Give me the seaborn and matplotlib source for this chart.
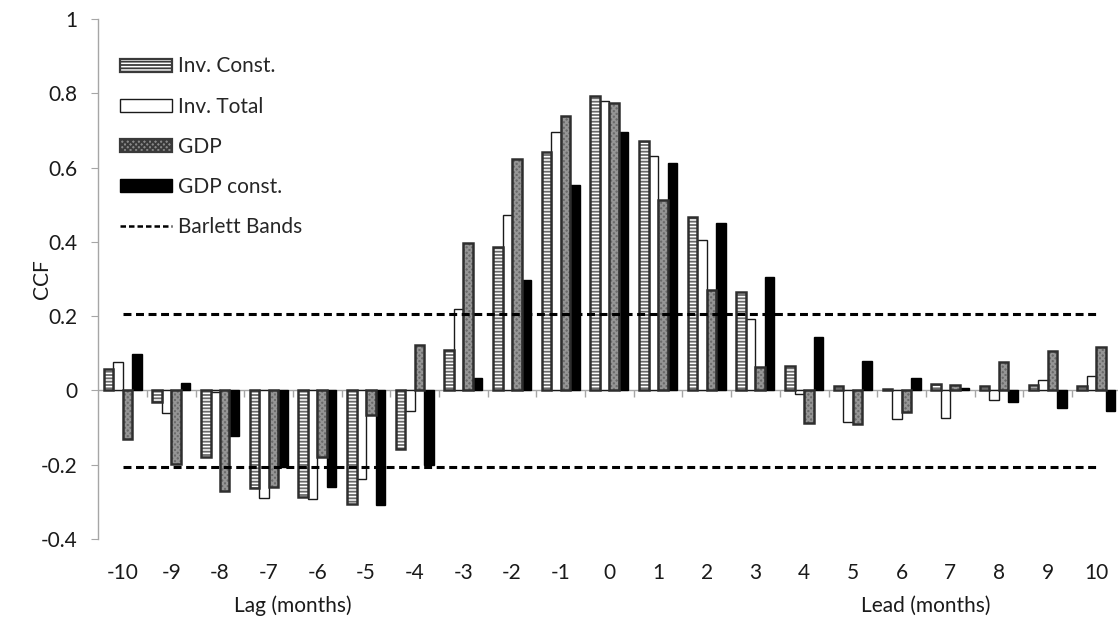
import numpy as np
import pandas as pd
import matplotlib
matplotlib.use("Agg")
import matplotlib.pyplot as plt
from matplotlib.patches import Patch, Rectangle
from matplotlib.lines import Line2D
import seaborn as sns

# Cross-correlation of each series with the reference series, by lag/lead in months
lags = list(range(-10, 11))
tick_labels = [str(v) for v in lags]

inv_const = [0.059, -0.032, -0.180, -0.262, -0.286, -0.306, -0.159, 0.110, 0.385, 0.643,
             0.793, 0.671, 0.466, 0.266, 0.066, 0.012, 0.004, 0.016, 0.011, 0.015, 0.011]
inv_total = [0.077, -0.062, -0.004, -0.289, -0.292, -0.238, -0.056, 0.219, 0.473, 0.697,
             0.780, 0.632, 0.406, 0.193, -0.009, -0.086, -0.078, -0.074, -0.027, 0.029, 0.039]
gdp = [-0.131, -0.197, -0.272, -0.261, -0.180, -0.067, 0.123, 0.397, 0.623, 0.738,
       0.774, 0.512, 0.270, 0.063, -0.088, -0.090, -0.058, 0.014, 0.076, 0.107, 0.117]
gdp_const = [0.099, 0.021, -0.123, -0.205, -0.261, -0.308, -0.200, 0.034, 0.296, 0.552,
             0.697, 0.611, 0.452, 0.305, 0.143, 0.078, 0.034, 0.007, -0.032, -0.048, -0.056]

series_names = ["Inv. Const.", "Inv. Total", "GDP", "GDP const."]
bartlett_upper = [0.207] * len(lags)
bartlett_lower = [-0.207] * len(lags)

y_ticks = [1, 0.8, 0.6, 0.4, 0.2, 0, -0.2, -0.4]
y_tick_labels = ["1", "0.8", "0.6", "0.4", "0.2", "0", "-0.2", "-0.4"]

# Long-format table for seaborn
df = pd.DataFrame({
    "lag": lags * 4,
    "series": np.repeat(series_names, len(lags)),
    "ccf": inv_const + inv_total + gdp + gdp_const,
})

sns.set_theme(style="white")
plt.rcParams["font.family"] = ["Lato", "DejaVu Sans"]
plt.rcParams["hatch.linewidth"] = 1.3

FS = 15
W, H = 1118, 626
fig = plt.figure(figsize=(W / 100, H / 100), dpi=100)
ax_left, ax_right, ax_top, ax_bottom = 98.3, 1118, 19, 539
ax = fig.add_axes([ax_left / W, 1 - ax_bottom / H, (ax_right - ax_left) / W, (ax_bottom - ax_top) / H])

sns.barplot(data=df, x="lag", y="ccf", hue="series", hue_order=series_names,
            order=lags, palette=["#ffffff"] * 4, width=0.78, gap=0,
            saturation=1, legend=False, ax=ax, errorbar=None)

# Per-series bar styling: (face, edge, hatch, hatch colour, edge width)
styles = {
    "Inv. Const.": ("#ffffff", "#2e2e2e", "-----", "#6a6a6a", 1.8),
    "Inv. Total": ("#ffffff", "#1a1a1a", None, None, 1.0),
    "GDP": ("#6a6a6a", "#2e2e2e", "xxxxxx", "#959595", 1.8),
    "GDP const.": ("#000000", "#000000", None, None, 1.0),
}
draw_order = {"Inv. Total": 1, "Inv. Const.": 2, "GDP": 2, "GDP const.": 2}

for name, cont in zip(series_names, ax.containers):
    face, edge, hatch, hcol, lw = styles[name]
    for bar in cont:
        bar.set_facecolor(face)
        bar.set_zorder(draw_order[name])
        if hatch:
            # hatched fill, with a separate outline so hatch and border colours differ
            bar.set_hatch(hatch)
            bar.set_edgecolor(hcol)
            bar.set_linewidth(0)
            ax.add_patch(Rectangle(bar.get_xy(), bar.get_width(), bar.get_height(),
                                   fill=False, edgecolor=edge, linewidth=lw,
                                   zorder=draw_order[name] + 0.1))
        else:
            bar.set_edgecolor(edge)
            bar.set_linewidth(lw)

# Bartlett bands
xpos = np.arange(len(lags))
for band in (bartlett_upper, bartlett_lower):
    ax.plot(xpos, band, color="black", linewidth=2.2, dashes=(2.6, 1.5), zorder=5)

# Zero line with category-boundary tick marks hanging below it
ax.axhline(0, color="#a6a6a6", linewidth=1.0, zorder=0.5)
boundaries = np.arange(len(lags) - 1) + 0.5
ax.vlines(boundaries, 0, -0.019, color="#a6a6a6", linewidth=1.0, zorder=0.5)

ax.set_xlim(-0.5, -0.5 + (ax_right - ax_left) / 48.68)
ax.set_ylim(-0.4, 1.0)

for s in ("top", "right", "bottom"):
    ax.spines[s].set_visible(False)
ax.spines["left"].set_color("#a6a6a6")
ax.spines["left"].set_linewidth(1.0)

ax.set_yticks(y_ticks)
ax.set_yticklabels(y_tick_labels, fontsize=FS, color="#1a1a1a")
ax.tick_params(axis="y", direction="out", length=5, width=0.8, color="#a6a6a6", pad=10, left=True)
ax.set_xticks(xpos)
ax.set_xticklabels(tick_labels, fontsize=FS, color="#1a1a1a")
ax.tick_params(axis="x", length=0, pad=17)

ax.set_xlabel("")
ax.set_ylabel("CCF", fontsize=FS, color="#1a1a1a", labelpad=-8)

# Lag / lead annotations below the tick labels
lag_y = -0.4 - (606 - ax_bottom) / (ax_bottom - ax_top) * 1.4
ax.text(3.5, lag_y, "Lag (months)", fontsize=FS, ha="center", va="center",
        color="#1a1a1a", clip_on=False)
ax.text(16.5, lag_y, "Lead (months)", fontsize=FS, ha="center", va="center",
        color="#1a1a1a", clip_on=False)

# Legend
handles = [
    Patch(facecolor="#ffffff", edgecolor="#3a3a3a", hatch="-----", linewidth=1.6),
    Patch(facecolor="#ffffff", edgecolor="#1a1a1a", linewidth=1.0),
    Patch(facecolor="#8a8a8a", edgecolor="#3a3a3a", hatch="xxxxxx", linewidth=1.6),
    Patch(facecolor="#000000", edgecolor="#000000", linewidth=1.0),
    Line2D([], [], color="black", linewidth=1.8, dashes=(2.2, 1.2)),
]
labels = series_names + ["Barlett Bands"]
leg = ax.legend(handles, labels, loc="upper left", bbox_to_anchor=(0.021, 0.928),
                frameon=False, fontsize=FS, handlelength=2.5, handleheight=0.58,
                handletextpad=0.3, labelspacing=0.97, borderpad=0, borderaxespad=0)

fig.savefig("out.png", dpi=100)
